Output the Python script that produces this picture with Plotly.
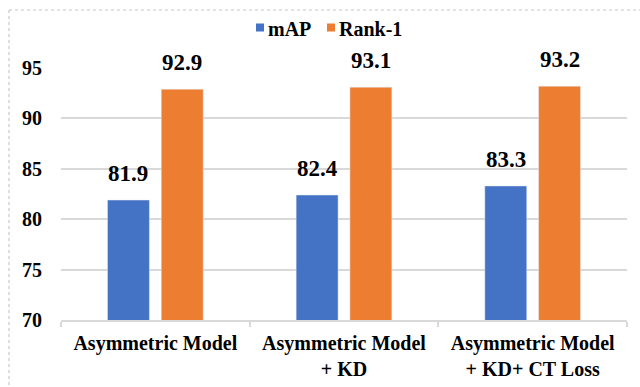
import plotly.graph_objects as go

categories = ["Asymmetric Model", "Asymmetric Model<br>+ KD", "Asymmetric Model<br>+ KD+ CT Loss"]
map_values = [81.9, 82.4, 83.3]
rank1_values = [92.9, 93.1, 93.2]
y_ticks = [70, 75, 80, 85, 90, 95]
series_names = ["mAP", "Rank-1"]

BLUE = "#4472C4"
ORANGE = "#ED7D31"
GRID = "#d9d9d9"
FONT = "Liberation Serif"

fig = go.Figure()
fig.add_trace(go.Bar(name=series_names[0], x=categories, y=map_values, marker_color=BLUE))
fig.add_trace(go.Bar(name=series_names[1], x=categories, y=rank1_values, marker_color=ORANGE))

# value labels above each bar
annotations = []
for i, (m, r) in enumerate(zip(map_values, rank1_values)):
    for val, xs in ((m, -27), (r, 27)):
        annotations.append(dict(
            x=categories[i], y=val, xref="x", yref="y",
            text=f"<b>{val:.1f}</b>", showarrow=False,
            yanchor="bottom", xshift=xs, yshift=12,
            font=dict(family=FONT, size=23, color="#000"),
        ))

L, R, T, B = 61, 13, 68, 67
W, H = 640, 387
pw, ph = W - L - R, H - T - B

def px_x(p):
    return (p - L) / pw

def px_y(p):
    return 1 - (p - T) / ph

# dotted chart-area frame (left and top edges)
border = dict(color="#c8c8c8", width=1.2, dash="dot")
shapes = [
    dict(type="line", xref="paper", yref="paper", x0=px_x(9), x1=px_x(9),
         y0=px_y(10), y1=px_y(H + 5), line=border),
    dict(type="line", xref="paper", yref="paper", x0=px_x(9), x1=px_x(W + 5),
         y0=px_y(10), y1=px_y(10), line=border),
]

# compact legend: small square swatch followed by the series name
legend_items = [(series_names[0], BLUE, 256), (series_names[1], ORANGE, 327)]
for name, color, left in legend_items:
    shapes.append(dict(type="rect", xref="paper", yref="paper",
                       x0=px_x(left), x1=px_x(left + 8), y0=px_y(31.5), y1=px_y(23.5),
                       fillcolor=color, line=dict(width=0)))
    annotations.append(dict(x=px_x(left + 10), y=px_y(29), xref="paper", yref="paper",
                            xanchor="left", yanchor="middle", showarrow=False,
                            text=f"<b>{name}</b>",
                            font=dict(family=FONT, size=20, color="#000")))

fig.update_layout(
    width=W, height=H,
    margin=dict(l=L, r=R, t=T, b=B),
    paper_bgcolor="white", plot_bgcolor="white",
    barmode="group", bargap=0.43, bargroupgap=0.22,
    font=dict(family=FONT, color="#000"),
    showlegend=False,
    xaxis=dict(
        showline=True, linecolor=GRID, linewidth=1.5,
        ticks="outside", tickson="boundaries", ticklen=5, tickcolor=GRID, tickwidth=1.5,
        tickfont=dict(family=FONT, size=20, color="#000", weight="bold"),
        ticklabelstandoff=4, automargin=False,
        showgrid=False,
    ),
    yaxis=dict(
        range=[70, 95], tickvals=y_ticks,
        showgrid=True, gridcolor=GRID, gridwidth=1.5,
        zeroline=False, showline=False,
        tickfont=dict(family=FONT, size=20, color="#000", weight="bold"),
        ticklabelstandoff=18, automargin=False,
    ),
    annotations=annotations,
    shapes=shapes,
)

fig.write_html("out.html")
